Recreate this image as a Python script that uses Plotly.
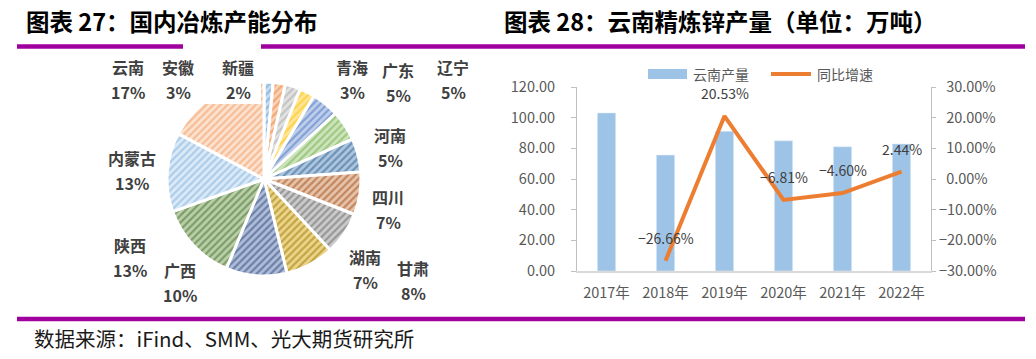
import plotly.graph_objects as go

# ---------------- data ----------------
# Left: domestic smelting capacity distribution (slice order clockwise from 12 o'clock)
pie_names = ["新疆", "安徽", "青海", "其他", "广东", "辽宁", "河南",
             "四川", "湖南", "甘肃", "广西", "陕西", "内蒙古", "云南"]
pie_values = [1.5, 2.0, 2.5, 2.5, 4.5, 5.0, 5.5, 7.0, 7.0, 8.0, 10.0, 13.0, 13.0, 17.0]
pie_label_pct = ["2%", "3%", "3%", "", "5%", "5%", "5%",
                 "7%", "7%", "8%", "10%", "13%", "13%", "17%"]

# Right: Yunnan refined zinc output (10k t) and YoY growth
years = ["2017年", "2018年", "2019年", "2020年", "2021年", "2022年"]
output = [103.1, 75.6, 91.1, 84.9, 81.0, 82.9]
growth = [None, -26.66, 20.53, -6.81, -4.60, 2.44]
y_ticks = [0, 20, 40, 60, 80, 100, 120]
y2_ticks = [-30, -20, -10, 0, 10, 20, 30]

# ---------------- styles ----------------
W, H = 1036, 359
def px(x): return x / W
def py(y): return 1 - y / H

base_cols = ["#5B9BD5", "#ED7D31", "#A5A5A5", "#FFC000", "#4472C4", "#70AD47",
             "#255E91", "#9E480E", "#636363", "#997300", "#264478", "#43682B",
             "#7CAFDD", "#F1975A"]
tint_cols = ["#C9DDF1", "#F9D3B9", "#E2E2E2", "#FFE699", "#C0CFEA", "#CDE4BD",
             "#AFC6DE", "#E6C4AC", "#CBCBCB", "#EBD58A", "#B0BDD8", "#B9D0A8",
             "#DCEAF7", "#FCE2D0"]

PURPLE = "#A0009E"
GRAY_TXT = "#595959"
AXIS_COL = "#BFBFBF"
CJK = "Noto Sans CJK SC"

# label positions (pixel centres) for pie labels
label_pos = {
    "云南": (128, 67), "安徽": (178, 67), "新疆": (238, 67), "青海": (352, 67),
    "广东": (398, 70), "辽宁": (453, 67), "河南": (390, 135), "四川": (388, 197),
    "湖南": (365, 257), "甘肃": (413, 268), "广西": (180, 270), "陕西": (130, 245),
    "内蒙古": (132, 158),
}

fig = go.Figure()

# ---------------- pie ----------------
cx, cy, r = 264, 179, 97
fig.add_trace(go.Pie(
    labels=pie_names, values=pie_values, sort=False, direction="clockwise",
    rotation=0, textinfo="none", showlegend=False, hole=0,
    domain=dict(x=[px(cx - r), px(cx + r)], y=[py(cy + r), py(cy - r)]),
    marker=dict(
        colors=tint_cols,
        line=dict(color="white", width=3),
        pattern=dict(shape="/", fgcolor=base_cols, size=5, solidity=0.45,
                     fillmode="overlay"),
    ),
))

# ---------------- bar + line ----------------
fig.add_trace(go.Bar(
    x=years, y=output, name="云南产量", marker_color="#9DC3E6",
    showlegend=False, xaxis="x", yaxis="y",
))
fig.add_trace(go.Scatter(
    x=years, y=growth, name="同比增速", mode="lines",
    line=dict(color="#ED7D31", width=4), showlegend=False,
    xaxis="x", yaxis="y2", connectgaps=False,
))

def fmt_pct(v):
    s = f"{v:.2f}%"
    return s.replace("-", "−")

def fmt_axis_pct(v):
    return fmt_pct(v) if v < 0 else "\u2002" + fmt_pct(v)

def txt(x, y, text, size, color, xanchor="center", bold=False):
    return dict(x=px(x), y=py(y), xref="paper", yref="paper", showarrow=False,
                xanchor=xanchor, yanchor="middle",
                text=f"<b>{text}</b>" if bold else text,
                font=dict(family=CJK, size=size, color=color))

annotations = []
for yr, g in zip(years, growth):
    if g is None:
        continue
    annotations.append(dict(
        x=yr, y=g, xref="x", yref="y2", text=fmt_pct(g), showarrow=False,
        yanchor="middle", yshift=23,
        font=dict(family=CJK, size=14, color="#404040"),
    ))

# pie labels
for name, pct in zip(pie_names, pie_label_pct):
    if name not in label_pos:
        continue
    lx, ly = label_pos[name]
    annotations.append(txt(lx, ly, name, 16, "#404040", bold=True))
    annotations.append(txt(lx, ly + 25, pct, 16, "#404040", bold=True))

# titles, source, legend texts
annotations += [
    txt(24, 21, "图表 27：国内冶炼产能分布", 23.5, "#000000", "left", True),
    txt(502, 21, "图表 28：云南精炼锌产量（单位：万吨）", 23.5, "#000000", "left", True),
    txt(32, 338, "数据来源：iFind、SMM、光大期货研究所", 20.5, "#1A1A1A", "left"),
    txt(691, 74, "云南产量", 14, GRAY_TXT, "left"),
    txt(815, 74, "同比增速", 14, GRAY_TXT, "left"),
]

shapes = [
    # purple rules
    dict(type="line", xref="paper", yref="paper", x0=px(17), x1=px(1025),
         y0=py(46.5), y1=py(46.5), line=dict(color=PURPLE, width=4.5)),
    dict(type="line", xref="paper", yref="paper", x0=px(17), x1=px(1025),
         y0=py(319), y1=py(319), line=dict(color=PURPLE, width=4.5)),
    # white label box over pie (Excel label background)
    dict(type="rect", xref="paper", yref="paper", x0=px(183), x1=px(261),
         y0=py(104), y1=py(40), fillcolor="white", line=dict(width=0),
         layer="above"),
    # legend symbols
    dict(type="rect", xref="paper", yref="paper", x0=px(648), x1=px(687),
         y0=py(79), y1=py(69), fillcolor="#9DC3E6", line=dict(width=0)),
    dict(type="line", xref="paper", yref="paper", x0=px(771), x1=px(811),
         y0=py(74), y1=py(74), line=dict(color="#ED7D31", width=4)),
]

fig.update_layout(
    width=W, height=H, autosize=False,
    margin=dict(l=0, r=0, t=0, b=0, pad=0, autoexpand=False),
    paper_bgcolor="white", plot_bgcolor="white",
    showlegend=False,
    bargap=0.69,
    xaxis=dict(domain=[px(577), px(931)], type="category", automargin=False,
               showline=True, linecolor="#D9D9D9", linewidth=1.5,
               ticks="", showgrid=False, zeroline=False, ticklabelstandoff=8,
               tickfont=dict(family=CJK, size=14.5, color=GRAY_TXT)),
    yaxis=dict(domain=[py(271), py(87)], range=[0, 120], automargin=False,
               tickvals=y_ticks, ticktext=[f"{v:.2f}" for v in y_ticks],
               showline=True, linecolor=AXIS_COL, linewidth=1,
               ticks="outside", ticklen=5, tickcolor=AXIS_COL,
               showgrid=False, zeroline=False, ticklabelstandoff=13,
               tickfont=dict(family=CJK, size=14.5, color=GRAY_TXT)),
    yaxis2=dict(overlaying="y", side="right", anchor="x", range=[-30, 30],
                automargin=False,
                tickvals=y2_ticks, ticktext=[fmt_axis_pct(v) for v in y2_ticks],
                showline=True, linecolor=AXIS_COL, linewidth=1,
                ticks="outside", ticklen=4, tickcolor=AXIS_COL,
                showgrid=False, zeroline=False, ticklabelstandoff=0,
                tickfont=dict(family=CJK, size=14.5, color=GRAY_TXT)),
    annotations=annotations,
    shapes=shapes,
)

fig.write_html("out.html", config={"displayModeBar": False},
               post_script="document.body.style.margin='0';document.body.style.overflow='hidden';")
